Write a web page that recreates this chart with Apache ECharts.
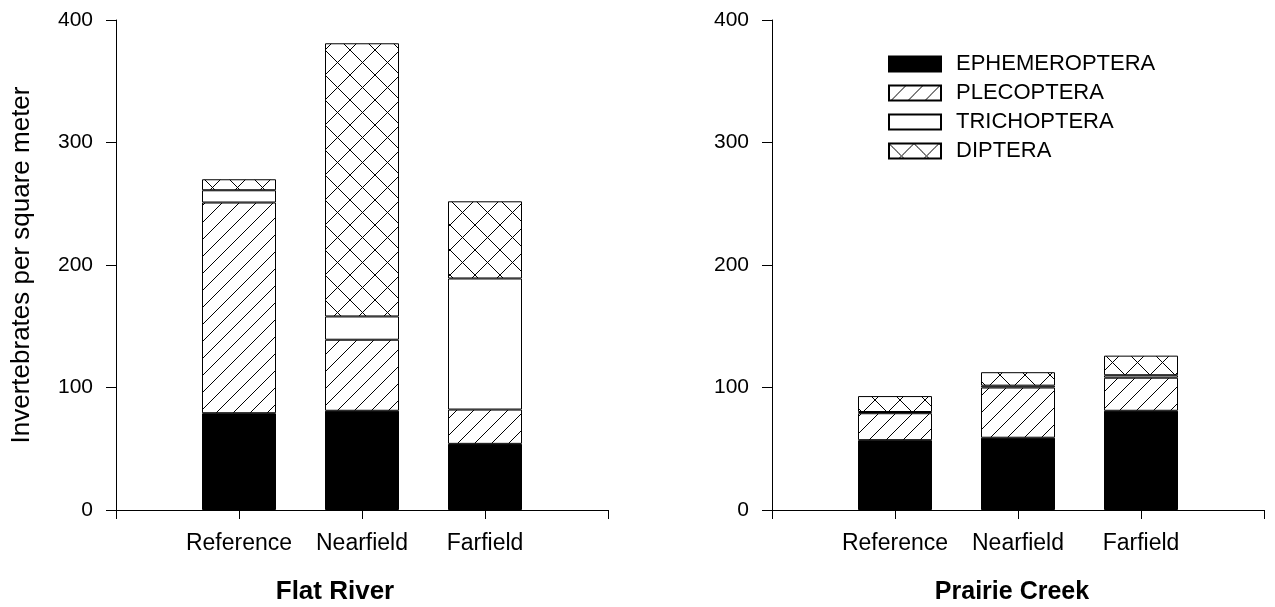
<!DOCTYPE html>
<html>
<head>
<meta charset="utf-8">
<script src="https://cdn.jsdelivr.net/npm/echarts@6/dist/echarts.min.js"></script>
<style>
  html, body { margin: 0; padding: 0; background: #fff; }
  #chart { width: 1275px; height: 607px; }
</style>
</head>
<body>
<div id="chart"></div>
<script>
// Sampling sites along each stream
const sites = ['Reference', 'Nearfield', 'Farfield'];
const taxa = ['EPHEMEROPTERA', 'PLECOPTERA', 'TRICHOPTERA', 'DIPTERA'];
const yTicks = [0, 100, 200, 300, 400];

// Flat River densities (invertebrates per square meter)
const flatEphemeroptera = [79, 81, 54];
const flatPlecoptera = [172, 58, 28];
const flatTrichoptera = [10, 19, 107];
const flatDiptera = [9, 223, 63];

// Prairie Creek densities (invertebrates per square meter)
const prairieEphemeroptera = [57, 59, 81];
const prairiePlecoptera = [22, 41, 27];
const prairieTrichoptera = [1, 1.5, 2];
const prairieDiptera = [13, 11, 16];

const FONT = '"Liberation Sans", Arial, sans-serif';

// The x axis has an empty slot at each end so the sites sit on the inner ticks
const slots = ['', ...sites, ''];
const padded = arr => ['-', ...arr, '-'];

// Hatch fills drawn on small tiles and repeated
function diagonalTile() {
  const s = 17, c = document.createElement('canvas');
  c.width = s; c.height = s;
  const g = c.getContext('2d');
  g.fillStyle = '#fff'; g.fillRect(0, 0, s, s);
  g.strokeStyle = '#000'; g.lineWidth = 1;
  g.beginPath();
  g.moveTo(-2, s + 2); g.lineTo(s + 2, -2);
  g.moveTo(-2, 2); g.lineTo(2, -2);
  g.moveTo(s - 2, s + 2); g.lineTo(s + 2, s - 2);
  g.stroke();
  return c;
}
function crossTile() {
  const s = 25, c = document.createElement('canvas');
  c.width = s; c.height = s;
  const g = c.getContext('2d');
  g.fillStyle = '#fff'; g.fillRect(0, 0, s, s);
  g.strokeStyle = '#000'; g.lineWidth = 1;
  g.beginPath();
  g.moveTo(-2, -2); g.lineTo(s + 2, s + 2);
  g.moveTo(-2, s + 2); g.lineTo(s + 2, -2);
  g.stroke();
  return c;
}

const fills = [
  '#000',
  { image: diagonalTile(), repeat: 'repeat' },
  '#fff',
  { image: crossTile(), repeat: 'repeat' }
];

function panelSeries(stack, idx, columns) {
  return columns.map((col, k) => ({
    name: taxa[k],
    type: 'bar',
    stack: stack,
    xAxisIndex: idx,
    yAxisIndex: idx,
    barWidth: 74,
    data: padded(col),
    itemStyle: { color: fills[k], borderColor: '#000', borderWidth: 1 },
    emphasis: { disabled: true },
    animation: false
  }));
}

function xAxisFor(idx) {
  return {
    type: 'category', gridIndex: idx, data: slots, boundaryGap: false,
    axisLine: { onZero: false, lineStyle: { color: '#000', width: 1 } },
    axisTick: { show: true, inside: false, length: 9, interval: 0, lineStyle: { color: '#000' } },
    splitLine: { show: false },
    axisLabel: { margin: 22, interval: 0, color: '#000', fontSize: 23, fontFamily: FONT }
  };
}

function yAxisFor(idx, withName) {
  const ax = {
    type: 'value', gridIndex: idx, min: yTicks[0], max: yTicks[yTicks.length - 1], interval: 100,
    axisLine: { show: true, lineStyle: { color: '#000', width: 1 } },
    axisTick: { show: true, inside: false, length: 10, lineStyle: { color: '#000' } },
    splitLine: { show: false },
    axisLabel: { margin: 23, color: '#000', fontSize: 21, fontFamily: FONT }
  };
  if (withName) {
    ax.name = 'Invertebrates per square meter';
    ax.nameLocation = 'middle';
    ax.nameGap = 81;
    ax.nameTextStyle = { color: '#000', fontSize: 26, fontFamily: FONT };
  }
  return ax;
}

const chart = echarts.init(document.getElementById('chart'), null, { renderer: 'canvas' });
chart.setOption({
  backgroundColor: '#fff',
  animation: false,
  grid: [
    { left: 116, top: 20, width: 492, height: 490 },
    { left: 772, top: 20, width: 492, height: 490 }
  ],
  xAxis: [xAxisFor(0), xAxisFor(1)],
  yAxis: [yAxisFor(0, true), yAxisFor(1, false)],
  legend: {
    data: taxa,
    orient: 'vertical',
    left: 888, top: 53,
    padding: 0,
    icon: 'rect',
    itemWidth: 52, itemHeight: 15, itemGap: 7,
    selectedMode: false,
    textStyle: { color: '#000', fontSize: 22, fontFamily: FONT, padding: [0, 0, 0, 10] }
  },
  graphic: [
    { type: 'text', x: 335, y: 592,
      style: { text: 'Flat River', font: 'bold 26px ' + FONT, fill: '#000',
               textAlign: 'center', textVerticalAlign: 'middle' } },
    { type: 'text', x: 1012, y: 592,
      style: { text: 'Prairie Creek', font: 'bold 25px ' + FONT, fill: '#000',
               textAlign: 'center', textVerticalAlign: 'middle' } }
  ],
  series: [
    ...panelSeries('flat', 0, [flatEphemeroptera, flatPlecoptera, flatTrichoptera, flatDiptera]),
    ...panelSeries('prairie', 1, [prairieEphemeroptera, prairiePlecoptera, prairieTrichoptera, prairieDiptera])
  ]
});
</script>
</body>
</html>
